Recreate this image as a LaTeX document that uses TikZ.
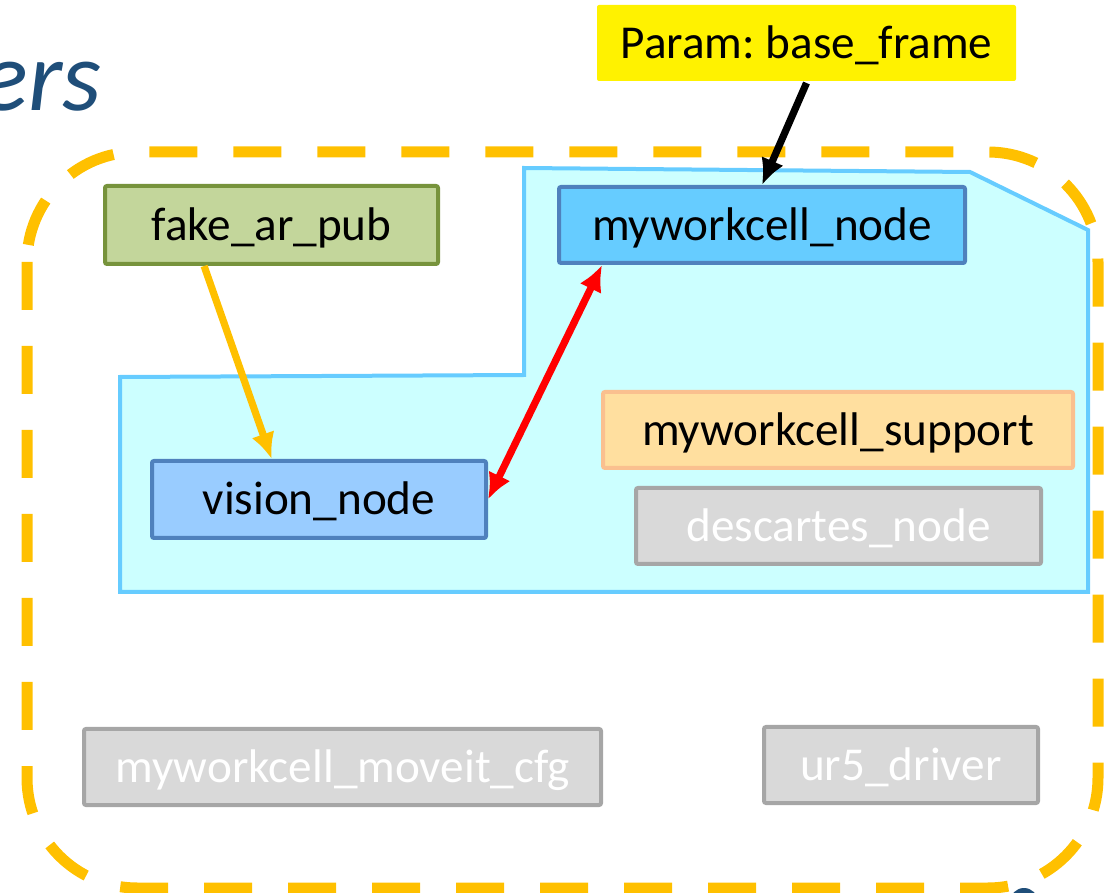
\documentclass[tikz,border=0pt]{standalone}
\usepackage{fontspec}
\setmainfont{Carlito}
\frenchspacing
\usetikzlibrary{positioning, calc, arrows.meta}

\definecolor{titleblue}{HTML}{1F4E79}
\definecolor{groupline}{HTML}{FFC000}
\definecolor{zonefill}{HTML}{CCFFFF}
\definecolor{zoneline}{HTML}{66CCFF}
\definecolor{pubfill}{HTML}{C3D69B}
\definecolor{publine}{HTML}{77933C}
\definecolor{nodefill}{HTML}{66CCFF}
\definecolor{visionfill}{HTML}{99CCFF}
\definecolor{boxline}{HTML}{4F81BD}
\definecolor{supportfill}{HTML}{FFDF9F}
\definecolor{supportline}{HTML}{FAC08F}
\definecolor{greyfill}{HTML}{D9D9D9}
\definecolor{greyline}{HTML}{A6A6A6}

\tikzset{
	box/.style={draw, line width=2pt, rounded corners=1pt, text centered, inner sep=0pt,
		text height=18pt, text depth=2.7pt, font=\fontsize{23.6pt}{28pt}\selectfont},
	greybox/.style={box, draw=greyline, fill=greyfill, text=white},
	link/.style={line width=3.6pt}
}

\begin{document}
\begin{tikzpicture}[x=0.5pt, y=-0.5pt]
		\useasboundingbox (0,0) rectangle (1105,893);
		
		%Title fragment
		\node (title) at (102,111) [anchor=base east, inner sep=0pt, text=titleblue,
		font=\fontsize{50pt}{60pt}\selectfont\itshape]{ers};
		
		%Zone
		\draw[line width=2pt, draw=zoneline, fill=zonefill] (120,377) -- (524,375) -- (524,168) --
		(970,172) -- (1088,230) -- (1088,592) -- (120,592) -- cycle;
		
		%Group border
		\draw[line width=5.5pt, draw=groupline, dash pattern=on 24pt off 18pt, rounded corners=55pt]
		(27,152) rectangle (1098,888);
		\fill[titleblue] (1024,902) circle (14);
		
		%Nodes
		\node (param) at (806.5,43) [box, draw=none, fill=yellow, minimum width=209.5pt,
		minimum height=38pt]{Param: base\_frame};
		\node (fakearpub) at (271.5,225) [box, draw=publine, fill=pubfill, minimum width=166.5pt,
		minimum height=39pt]{fake\_ar\_pub};
		\node (mwnode) at (762,225) [box, draw=boxline, fill=nodefill, minimum width=203pt,
		minimum height=38pt]{myworkcell\_node};
		\node (vision) at (319,499.5) [box, draw=boxline, fill=visionfill, minimum width=167pt,
		minimum height=38.5pt]{vision\_node};
		\node (support) at (838,430) [box, draw=supportline, fill=supportfill, minimum width=235pt,
		minimum height=38pt]{myworkcell\_support};
		\node (descartes) at (838.5,526) [greybox, minimum width=202.5pt,
		minimum height=38pt]{descartes\_node};
		\node (moveitcfg) at (342.5,767) [greybox, minimum width=258.5pt,
		minimum height=38pt]{myworkcell\_moveit\_cfg};
		\node (urdriver) at (901,765) [greybox, minimum width=137pt,
		minimum height=38pt]{ur5\_driver};
		
		%Connectors
		\draw[link, draw=groupline, -{Latex[length=13pt, width=12pt]}]
		($(fakearpub.south west)!0.3!(fakearpub.south east)$) --
		($(vision.north west)!0.36!(vision.north east)$);
		\draw[link, draw=red, {Latex[length=13pt, width=12pt]}-{Latex[length=13pt, width=12pt]}]
		(vision.east) -- ($(mwnode.south west)!0.11!(mwnode.south east)$);
		\draw[link, draw=black, -{Latex[length=13pt, width=12pt]}] (param.south) -- (mwnode.north);
		\end{tikzpicture}
\end{document}
